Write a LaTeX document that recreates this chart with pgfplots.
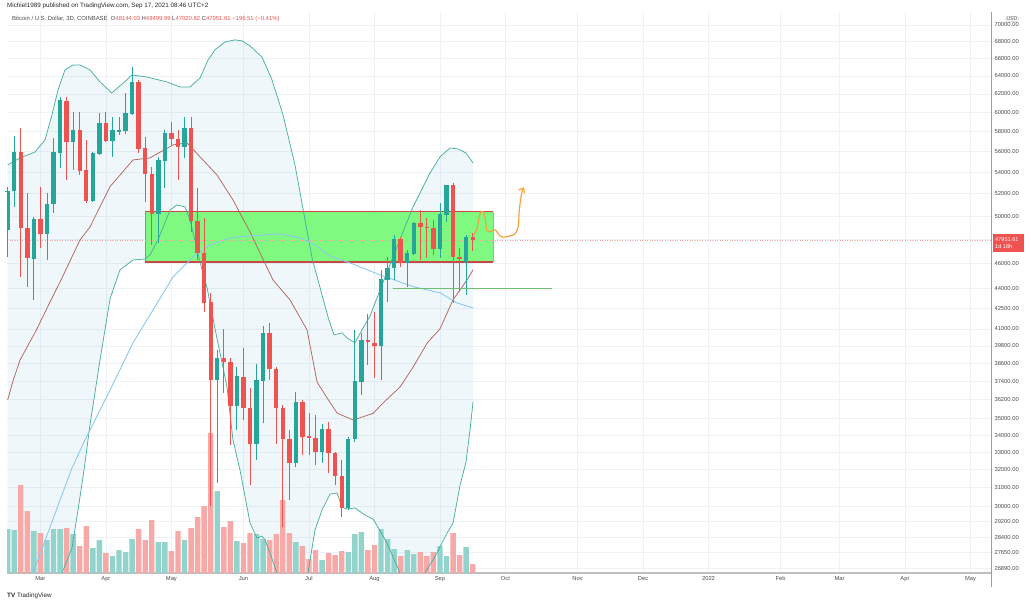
\documentclass[border=0pt]{standalone}
\usepackage{fontspec}
\setmainfont{Liberation Sans}
\usepackage{pgfplots}
\pgfplotsset{compat=1.18}
\usepackage{pgfplotstable}
\usetikzlibrary{arrows.meta}

\definecolor{tvgreen}{HTML}{26A69A}
\definecolor{tvred}{HTML}{EF5350}
\definecolor{volgreen}{HTML}{92D3CC}
\definecolor{volred}{HTML}{F7A9A7}
\definecolor{bandline}{HTML}{4BAE9F}
\definecolor{basisc}{HTML}{B0655F}
\definecolor{mac}{HTML}{8CC8F0}
\definecolor{gridc}{HTML}{EEF1F6}
\definecolor{bandfill}{HTML}{3E9FC4}
\definecolor{rectfill}{HTML}{80F981}
\definecolor{orangec}{HTML}{F5A23C}
\definecolor{hlinec}{HTML}{6CC070}
\definecolor{labelc}{HTML}{4A4A4A}

% 3D candles, index i (0 = 15 Feb 2021), open high low close, volume (relative units)
\pgfplotstableread{
i o h l c v
0 48790 52600 46500 52190 44
1 52260 57520 50840 55950 43
2 55950 58360 44940 48940 88
3 48940 52070 44160 46420 62
4 46360 49950 43140 49660 42
5 49660 52650 47240 48450 40
6 48450 52040 46280 50990 33
7 51080 57340 50270 55910 44
8 55910 61700 54390 61230 44
9 61150 61700 53280 56970 45
10 56970 60100 54230 58090 39
11 58090 60100 53750 54130 27
12 54130 57170 51140 51350 47
13 51350 56000 51290 55780 25
14 55780 59930 55680 58880 33
15 58880 60100 57000 57100 20
16 57100 59500 55520 58090 17
17 57990 59500 57680 58090 23
18 58090 62040 57780 59850 21
19 59850 65000 59750 63280 34
20 63280 63540 55850 56270 44
21 56270 57500 51290 53820 33
22 53820 54540 47520 50160 53
23 50160 55520 47690 55090 31
24 55090 58190 52510 57780 31
25 57780 59040 56670 57270 22
26 57170 58190 53280 56500 42
27 56500 59500 55360 58290 33
28 58290 59570 48650 49570 45
29 49510 52510 46280 46880 56
30 46830 49810 42260 42930 67
31 42930 43650 30000 37470 140
32 37470 39500 31250 38940 82
33 38940 40970 36600 38710 46
34 38640 38940 33420 35790 52
35 35790 38320 34310 37690 32
36 37650 39620 34920 35650 30
37 35650 36920 31140 33480 40
38 33480 38540 32550 37430 39
39 37430 41220 34720 40630 34
40 40630 41420 37470 38180 33
41 38180 38320 33480 35650 39
42 35650 35860 28920 33750 73
43 33750 34310 30330 32400 40
44 32400 36700 32170 36000 31
45 36000 36170 32840 33910 27
46 33910 35330 32840 33810 14
47 33810 35230 32270 33000 23
48 33000 34680 32400 34350 13
49 34350 34820 31790 32940 20
50 32940 33030 31140 31640 18
51 31640 32550 29420 29890 22
52 29890 33910 29800 33750 21
53 33750 40920 33610 37360 39
54 37360 40680 36490 40130 41
55 40130 42120 38470 40040 23
56 39970 42260 37580 39800 28
57 39800 45480 37470 44680 44
58 44680 46560 43010 45610 34
59 45610 48360 44680 47940 24
60 47940 48170 45740 46010 17
61 46010 47100 44160 46770 23
62 46770 49510 46690 49310 19
63 49310 50540 46280 49030 21
64 49030 49810 46420 48990 17
65 48940 49660 46690 47160 21
66 47160 51140 46420 50100 27
67 50100 52810 49510 52720 17
68 52720 52980 42890 46500 40
69 46500 47240 43770 46340 18
70 46140 48360 43480 48170 26
71 48144.03 48499.99 47020.82 47951.61 9
}\candles

\pgfplotsset{tvaxis/.style={at={(7pt,33pt)}, anchor=south west,
  width=984pt, height=561pt, scale only axis, xmin=-0.1, xmax=150.13}}

\begin{document}
\begin{tikzpicture}[x=1pt,y=1pt]
\path[use as bounding box] (0,0) rectangle (1031,606);

% ---------- base price axis: grid, ticks, band fill ----------
\begin{axis}[tvaxis, ymode=log, ymin=26680, ymax=71620,
  axis x line*=bottom, axis y line*=right,
  x axis line style={draw=gray!50, line width=1.4pt, -},
  y axis line style={draw=gray!75, line width=0.8pt, -},
  xtick={5,15,25,36,46,56,66,76,87,97,107,118,127,137,147},
  xticklabels={Mar,Apr,May,Jun,Jul,Aug,Sep,Oct,Nov,Dec,2022,Feb,Mar,Apr,May},
  ytick={26890,27650,28400,29200,30000,31000,32000,33000,34000,35000,36200,37400,38600,39800,41000,42500,44000,46000,48000,50000,52000,54000,56000,58000,60000,62000,64000,66000,68000,70000},
  yticklabels={26890.00,27650.00,28400.00,29200.00,30000.00,31000.00,32000.00,33000.00,34000.00,35000.00,36200.00,37400.00,38600.00,39800.00,41000.00,42500.00,44000.00,46000.00,48000.00,50000.00,52000.00,54000.00,56000.00,58000.00,60000.00,62000.00,64000.00,66000.00,68000.00,70000.00},
  tick style={draw=none}, major tick length=0pt,
  xmajorgrids, ymajorgrids, grid style={draw=gridc, line width=0.6pt},
  xticklabel style={font=\fontsize{5.8}{6}\selectfont, text=labelc},
  yticklabel style={font=\fontsize{5.8}{6}\selectfont, text=labelc, anchor=west},
]
\addplot[draw=none, fill=bandfill, fill opacity=0.08] coordinates {
(0,54710) (1.89,55390) (4.18,55970) (5.7,57170) (6.77,59750) (7.69,62430) (8.75,64670) (9.98,65230) (11.05,65230) (12.57,64670) (14.1,63320) (15.89,62100) (17.15,62880) (18.18,63540) (18.94,64100) (21.23,63870) (24.28,63320) (26.31,62760) (27.84,62760) (29.37,63760) (30.59,65800) (31.66,67000) (33.18,67940) (34.71,68180) (35.78,68060) (37,67460) (38.83,66160) (40.36,63540) (42.04,59750) (43.87,54710) (45.4,49660) (46.47,46440) (47.38,44680) (48.91,41860) (49.83,40560) (51.05,40710) (51.81,40350) (53.03,40000) (54.25,41060) (55.32,41930) (56.85,43900) (59.44,47350) (61.89,50810) (64.48,53940) (66.01,55490) (67.54,56370) (68.76,56270) (69.98,55870) (71.05,54900)
(71.05,36040) (70.59,34310) (69.98,32440) (69.07,31140) (68,29130) (67.08,28620) (65.55,27630) (63.72,26680) (61.73,25660) (59.9,26680) (58.83,27440) (57.92,28120) (56.54,28920) (55.78,29330) (54.56,29540) (53.03,29910) (51.81,29850) (51.05,29960) (50.28,30710) (49.21,30650) (47.99,29800) (46.92,28770) (45.85,26680) (45.09,25660) (43.87,25000) (42.34,25450) (41.12,26680) (40.05,27630) (39.29,28270) (38.83,28470) (38.07,28370) (37,29130) (36.54,29970) (35.47,31980) (34.4,33710) (33.49,37010) (31.66,41000) (30.44,44080) (29.37,46110) (27.84,49660) (27.07,50810) (25.85,50990) (24.79,50540) (22.95,47940) (21.73,46690) (20.97,46360) (19.14,46280) (17.15,45480) (15.63,43220) (14.1,38810) (12.57,34620) (11.66,31980) (10.74,29800) (9.82,27870) (8.3,26680) (7.23,25450) (4.94,23710) (0,22100)
} -- cycle;
\end{axis}

% ---------- volume ----------
\begin{axis}[tvaxis, ymin=0, ymax=561, hide axis]
\addplot[ybar, bar width=5.4pt, bar shift=0pt, fill=volgreen, draw=none,
  restrict expr to domain={\thisrow{c}-\thisrow{o}}{0:1e9}] table[x=i, y=v] {\candles};
\addplot[ybar, bar width=5.4pt, bar shift=0pt, fill=volred, draw=none,
  restrict expr to domain={\thisrow{o}-\thisrow{c}}{0.000001:1e9}] table[x=i, y=v] {\candles};
\end{axis}

% ---------- overlay price axis ----------
\begin{axis}[tvaxis, ymode=log, ymin=26680, ymax=71620, hide axis]
% zone rectangle
\addplot[draw=none, fill=rectfill] coordinates {(21,46110) (74.1,46110) (74.1,50390) (21,50390)} -- cycle;
\addplot[draw=bandline, line width=0.6pt] coordinates {(21,46110) (21,50390)};
\addplot[draw=mac!70!gray, line width=0.6pt] coordinates {(74.1,46110) (74.1,50390)};
\addplot[draw=tvred!85!black, line width=1.3pt] coordinates {(21,50390) (74.1,50390)};
\addplot[draw=tvred!85!black, line width=1.3pt] coordinates {(21,46110) (74.1,46110)};

% Bollinger bands
\addplot[bandline, line width=0.75pt] coordinates {
(0,54710) (1.89,55390) (4.18,55970) (5.7,57170) (6.77,59750) (7.69,62430) (8.75,64670) (9.98,65230) (11.05,65230) (12.57,64670) (14.1,63320) (15.89,62100) (17.15,62880) (18.18,63540) (18.94,64100) (21.23,63870) (24.28,63320) (26.31,62760) (27.84,62760) (29.37,63760) (30.59,65800) (31.66,67000) (33.18,67940) (34.71,68180) (35.78,68060) (37,67460) (38.83,66160) (40.36,63540) (42.04,59750) (43.87,54710) (45.4,49660) (46.47,46440) (47.38,44680) (48.91,41860) (49.83,40560) (51.05,40710) (51.81,40350) (53.03,40000) (54.25,41060) (55.32,41930) (56.85,43900) (59.44,47350) (61.89,50810) (64.48,53940) (66.01,55490) (67.54,56370) (68.76,56270) (69.98,55870) (71.05,54900)};
\addplot[bandline, line width=0.75pt] coordinates {
(0,22100) (4.94,23710) (7.23,25450) (8.3,26680) (9.82,27870) (10.74,29800) (11.66,31980) (12.57,34620) (14.1,38810) (15.63,43220) (17.15,45480) (19.14,46280) (20.97,46360) (21.73,46690) (22.95,47940) (24.79,50540) (25.85,50990) (27.07,50810) (27.84,49660) (29.37,46110) (30.44,44080) (31.66,41000) (33.49,37010) (34.4,33710) (35.47,31980) (36.54,29970) (37,29130) (38.07,28370) (38.83,28470) (39.29,28270) (40.05,27630) (41.12,26680) (42.34,25450) (43.87,25000) (45.09,25660) (45.85,26680) (46.92,28770) (47.99,29800) (49.21,30650) (50.28,30710) (51.05,29960) (51.81,29850) (53.03,29910) (54.56,29540) (55.78,29330) (56.54,28920) (57.92,28120) (58.83,27440) (59.9,26680) (61.73,25660) (63.72,26680) (65.55,27630) (67.08,28620) (68,29130) (69.07,31140) (69.98,32440) (70.59,34310) (71.05,36040)};
\addplot[basisc, line width=0.75pt] coordinates {
(0,36170) (0.86,37470) (1.89,38810) (4.48,41000) (6.47,42990) (8.0,44520) (11.05,47940) (12.57,49050) (15.63,52660) (19.14,55190) (21.73,55390) (25.24,56670) (27.38,56870) (29.37,55490) (31.96,53750) (34.4,51440) (37.0,48620) (38.83,46520) (40.51,44680) (43.11,43140) (45.71,40920) (47.24,37340) (48.77,36300) (50.3,35350) (52.74,34920) (55.79,35330) (57.3,35980) (59.9,37010) (61.89,38320) (64.02,39970) (66.01,41000) (67.99,43140) (70.13,44680) (71.05,45480)};
\addplot[mac, line width=0.9pt] coordinates {
(1.89,25000) (3.88,26680) (6.47,28920) (8.0,30330) (9.82,32090) (11.81,33710) (14.1,35540) (15.63,36810) (19.14,40000) (22.19,42380) (25.24,44920) (28.3,46520) (30.89,47520) (33.95,48110) (37.0,48280) (41.58,48450) (44.63,48110) (46.92,47520) (49.21,46600) (52.27,46040) (56.85,45080) (61.89,44160) (66.01,43680) (68.6,42910) (71.05,42540)};

% current price line
\addplot[tvred!55, line width=0.6pt, dash pattern=on 1pt off 1.5pt] coordinates {(-0.1,47951.61) (150.13,47951.61)};

% wicks
\addplot[draw=none, mark=none, forget plot,
  restrict expr to domain={\thisrow{c}-\thisrow{o}}{0:1e9},
  error bars/.cd, y dir=minus, y explicit, error mark=none,
  error bar style={draw=tvgreen, line width=0.9pt}]
  table[x=i, y=h, y error minus expr=\thisrow{h}-\thisrow{l}] {\candles};
\addplot[draw=none, mark=none, forget plot,
  restrict expr to domain={\thisrow{o}-\thisrow{c}}{0.000001:1e9},
  error bars/.cd, y dir=minus, y explicit, error mark=none,
  error bar style={draw=tvred, line width=0.9pt}]
  table[x=i, y=h, y error minus expr=\thisrow{h}-\thisrow{l}] {\candles};
% bodies
\addplot[only marks, mark=-, mark size=2.2pt, mark options={draw=tvgreen, line width=1pt}, forget plot,
  restrict expr to domain={\thisrow{c}-\thisrow{o}}{0:1e9},
  error bars/.cd, y dir=minus, y explicit, error mark=none,
  error bar style={draw=tvgreen, line width=4.4pt}]
  table[x=i, y=c, y error minus expr=\thisrow{c}-\thisrow{o}] {\candles};
\addplot[only marks, mark=-, mark size=2.2pt, mark options={draw=tvred, line width=1pt}, forget plot,
  restrict expr to domain={\thisrow{o}-\thisrow{c}}{0.000001:1e9},
  error bars/.cd, y dir=minus, y explicit, error mark=none,
  error bar style={draw=tvred, line width=4.4pt}]
  table[x=i, y=o, y error minus expr=\thisrow{o}-\thisrow{c}] {\candles};

% support line
\addplot[hlinec, line width=1.3pt] coordinates {(58.8,44000) (83.1,44000)};
% projected path
\addplot[orangec, line width=1.2pt, smooth, tension=0.5, -{Straight Barb[length=4pt, width=7pt]}] coordinates {
(71.09,48360) (71.61,48790) (72.11,50190) (72.53,50400) (72.88,49890) (73.14,48790) (73.64,48650) (74.41,48790) (75.17,48280) (75.67,48170) (76.69,48280) (77.45,48450) (77.96,49080) (78.11,50540) (78.48,52040) (78.83,52600)};
\end{axis}

% right scale line extension and price tag
\draw[gray!75, line width=0.8pt] (991,33) -- (991,19);
\fill[tvred] (993,354) rectangle (1024,372);
\node[anchor=west, text=white, font=\fontsize{5.6}{6.6}\selectfont, align=left, inner sep=0pt] at (995,363) {47951.61\\1d 18h};
\node[fill=white, draw=gray!40, rounded corners=1pt, inner sep=0.8pt, font=\fontsize{5}{5}\selectfont, text=labelc] at (1012,587) {USD};

% header
\node[anchor=west, inner sep=0pt, font=\fontsize{6.3}{7}\selectfont, text=black!85] at (7,600) {Michiel1989 published on TradingView.com, Sep 17, 2021 08:46 UTC+2};
\node[anchor=west, inner sep=0pt, font=\fontsize{5.9}{7}\selectfont, text=labelc] at (12,587) {Bitcoin / U.S. Dollar, 3D, COINBASE\ \ O\textcolor{tvred}{48144.03}\ H\textcolor{tvred}{48499.99}\ L\textcolor{tvred}{47020.82}\ C\textcolor{tvred}{47951.61}\ \textcolor{tvred}{−196.51 (−0.41\%)}};
% footer
\node[anchor=west, inner sep=0pt, font=\fontsize{6.3}{7}\selectfont, text=black!85] at (7,10) {\textbf{TV}\ TradingView};
\end{tikzpicture}
\end{document}
